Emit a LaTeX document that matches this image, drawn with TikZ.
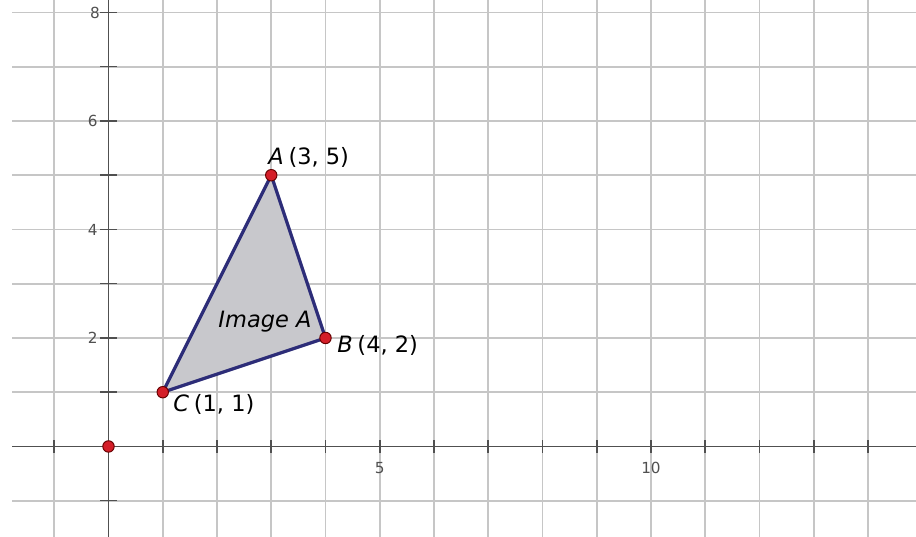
\documentclass[tikz,border=0pt]{standalone}
\usepackage{fontspec}
\setmainfont{DejaVu Sans}
\usepackage{tikz}
\usetikzlibrary{calc}

\definecolor{gridgray}{RGB}{198,198,198}
\definecolor{axisgray}{RGB}{80,80,80}
\definecolor{edgeblue}{RGB}{45,45,120}
\definecolor{pointred}{RGB}{212,30,40}
\definecolor{fillgray}{RGB}{200,200,204}

\tikzset{
    gridline/.style={gridgray, line width=0.9pt},
    axisline/.style={axisgray, line width=0.8pt},
    ticklabel/.style={text=axisgray, font=\fontsize{8}{9}\selectfont, inner sep=1pt},
    ptlabel/.style={font=\fontsize{11.8}{14}\selectfont, inner sep=0pt},
    vertex/.style={circle, fill=pointred, draw=black!60!red, line width=0.5pt,
        inner sep=0pt, minimum size=6pt}
}

\begin{document}
\begin{tikzpicture}[x=1cm,y=1cm]
\useasboundingbox (-2,-1.668) rectangle (14.885,8.23);

% Grid
\foreach \i in {-1,...,14}
    \draw[gridline] (\i,-1.668) -- (\i,8.23);
\foreach \j in {-1,...,8}
    \draw[gridline] (-1.77,\j) -- (14.885,\j);

% Axes
\draw[axisline] (-1.77,0) -- (14.885,0);
\draw[axisline] (0,-1.668) -- (0,8.23);

% Ticks
\foreach \i in {-1,...,14}
    \draw[axisline] (\i,-0.12) -- (\i,0.12);
\foreach \j in {-1,...,8}
    \draw[axisline] (-0.15,\j) -- (0.15,\j);

% Tick labels
\node[ticklabel] (x5) at (5,-0.4) {5};
\node[ticklabel] (x10) at (10,-0.4) {10};
\node[ticklabel] (y2) at (-0.29,2) {2};
\node[ticklabel] (y4) at (-0.29,4) {4};
\node[ticklabel] (y6) at (-0.29,6) {6};
\node[ticklabel] (y8) at (-0.25,8) {8};

% Vertices
\coordinate (A) at (3,5);
\coordinate (B) at (4,2);
\coordinate (C) at (1,1);
\coordinate (O) at (0,0);

% Image A
\filldraw[fill=fillgray, draw=edgeblue, line width=1.7pt, line join=round]
    (A) -- (B) -- (C) -- cycle;

% Points
\node[vertex] (pA) at (A) {};
\node[vertex] (pB) at (B) {};
\node[vertex] (pC) at (C) {};
\node[vertex] (pO) at (O) {};

\node[ptlabel, anchor=base west] (labA) at (2.94,5.19) {\textit{A}\kern2.5pt(3, 5)};
\node[ptlabel, anchor=base west] (labB) at (4.21,1.74) {\textit{B}\kern2.5pt(4, 2)};
\node[ptlabel, anchor=base west] (labC) at (1.19,0.64) {\textit{C}\kern2.5pt(1, 1)};
\node[ptlabel, anchor=base west] (labImg) at (2.02,2.2) {\textit{Image A}};

\end{tikzpicture}
\end{document}
